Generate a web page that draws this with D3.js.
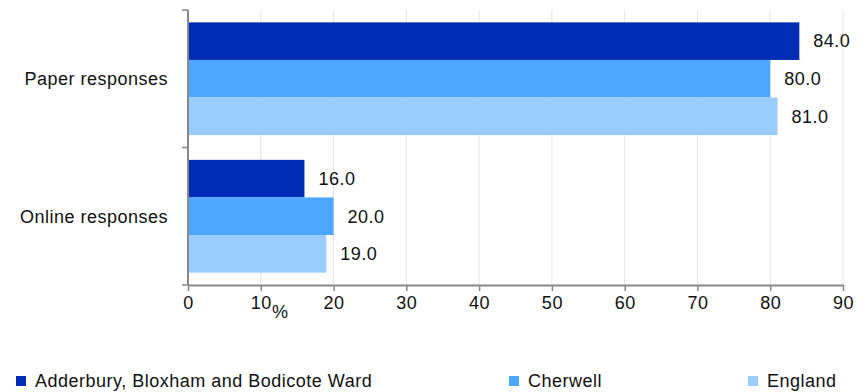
<!DOCTYPE html>
<html><head><meta charset="utf-8">
<script src="https://cdn.jsdelivr.net/npm/d3@7"></script>
<style>body{margin:0;background:#fff}svg{display:block;font-family:"Liberation Sans",Arial,sans-serif}text{letter-spacing:0.5px}</style>
</head><body><svg id="c" width="863" height="392"></svg>
<script>
const categories = ["Paper responses", "Online responses"];
const seriesNames = ["Adderbury, Bloxham and Bodicote Ward", "Cherwell", "England"];
const wardValues = [84.0, 16.0];
const cherwellValues = [80.0, 20.0];
const englandValues = [81.0, 19.0];
const xTicks = [0, 10, 20, 30, 40, 50, 60, 70, 80, 90];
const colors = ["#002db3", "#4da6ff", "#99ccff"];

const series = [wardValues, cherwellValues, englandValues];
const svg = d3.select("#c");
const FS = 18;
const L = 188, R = 843, T = 10, B = 285;
const x = d3.scaleLinear().domain([0, 90]).range([L, R]);
const y = d3.scaleBand().domain(categories).range([T, B]).paddingInner(0.18).paddingOuter(0.09);
const y1 = d3.scaleBand().domain(d3.range(3)).range([0, y.bandwidth()]);

// gridlines
svg.append("g").selectAll("line").data(xTicks.slice(1)).join("line")
  .attr("x1", d => x(d)).attr("x2", d => x(d)).attr("y1", T).attr("y2", B)
  .attr("stroke", "#e6e6e6").attr("stroke-width", 1);

// bars
categories.forEach((c, ci) => {
  series.forEach((s, si) => {
    svg.append("rect").attr("x", x(0)).attr("y", y(c) + y1(si))
      .attr("width", x(s[ci]) - x(0)).attr("height", y1.bandwidth())
      .attr("fill", colors[si]);
    svg.append("text").attr("x", x(s[ci]) + 14).attr("y", y(c) + y1(si) + y1.bandwidth() / 2)
      .attr("dy", "0.35em").attr("font-size", FS).attr("fill", "#111")
      .text(s[ci].toFixed(1));
  });
});

// x axis
const xa = svg.append("g").attr("transform", `translate(0,${B})`)
  .call(d3.axisBottom(x).tickValues(xTicks).tickSize(6).tickPadding(5).tickSizeOuter(0));
xa.select(".domain").attr("stroke", "#888").attr("stroke-width", 2);
xa.selectAll(".tick line").attr("stroke", "#888").attr("stroke-width", 1.5);
xa.selectAll(".tick text").attr("font-size", FS).attr("fill", "#111").attr("font-family", "Liberation Sans, Arial, sans-serif");

// y axis
svg.append("line").attr("x1", L).attr("x2", L).attr("y1", T).attr("y2", B).attr("stroke", "#888").attr("stroke-width", 2);
const bounds = [T, (y(categories[0]) + y.bandwidth() + y(categories[1])) / 2, B];
svg.append("g").selectAll("line").data(bounds).join("line")
  .attr("x1", L - 6).attr("x2", L).attr("y1", d => d).attr("y2", d => d)
  .attr("stroke", "#888").attr("stroke-width", 1.5);
svg.append("g").selectAll("text").data(categories).join("text")
  .attr("x", 168).attr("y", d => y(d) + y.bandwidth() / 2).attr("dy", "0.35em")
  .attr("text-anchor", "end").attr("font-size", FS).attr("fill", "#111").text(d => d);

// axis unit
svg.append("text").attr("x", 272).attr("y", 305).attr("dy", "0.71em").attr("font-size", FS).attr("fill", "#111").text("%");

// legend
const legX = [16, 509, 748];
seriesNames.forEach((n, i) => {
  svg.append("rect").attr("x", legX[i]).attr("y", 376).attr("width", 10).attr("height", 10).attr("fill", colors[i]);
  svg.append("text").attr("x", legX[i] + 19).attr("y", 381).attr("dy", "0.35em").attr("font-size", FS).attr("fill", "#111").text(n);
});
</script></body></html>
